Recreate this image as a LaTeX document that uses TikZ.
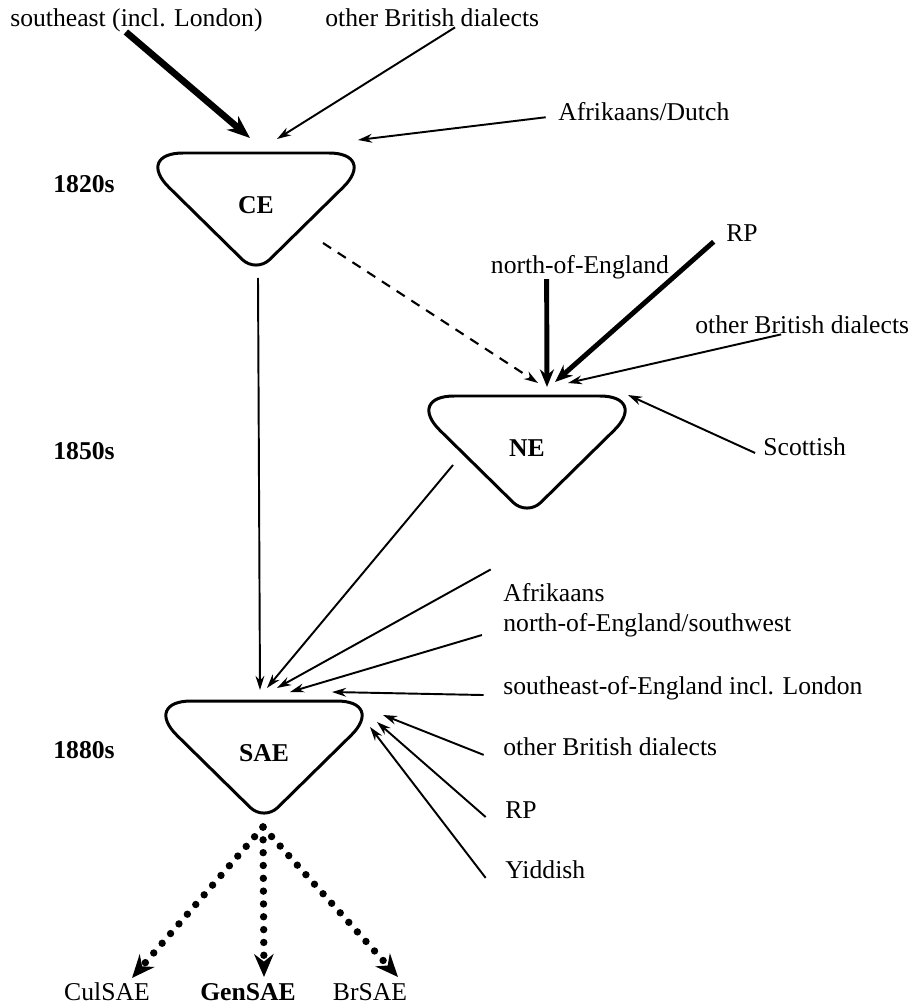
\documentclass[tikz,border=0pt]{standalone}
\usepackage{fontspec}
\setmainfont{Liberation Serif}
\usetikzlibrary{arrows.meta, positioning, calc}

% rounded triangle drawn round a variety node
\newcommand\vartri[1]{%
  \draw[tri] ($(#1)+(0,-52)$) [rounded corners=28pt] -- ($(#1)+(122,-52)$)
    [rounded corners=11pt] -- ($(#1)+(0,68)$)
    [rounded corners=28pt] -- ($(#1)+(-122,-52)$) -- cycle;}

\begin{document}
\begin{tikzpicture}[x=0.02cm, y=-0.02cm,
    lbl/.style={font=\fontsize{14.6pt}{17pt}\selectfont, inner sep=0pt, anchor=west},
    yr/.style={font=\fontsize{14.6pt}{17pt}\selectfont\bfseries, inner sep=0pt, anchor=west},
    var/.style={font=\fontsize{14.6pt}{17pt}\selectfont\bfseries, inner sep=0pt},
    tri/.style={line width=1.7pt},
    feed/.style={line width=1.1pt, -{Stealth[length=8pt, width=5pt]}},
    heavy/.style={line width=2.8pt, -{Stealth[length=10pt, width=8pt]}},
    heavier/.style={line width=3.8pt, -{Stealth[length=13pt, width=10pt]}},
    later/.style={line width=1.2pt, dash pattern=on 5.5pt off 4.5pt, -{Stealth[length=8pt, width=5pt]}},
    split/.style={line width=4.2pt, line cap=round, dash pattern=on 0pt off 7.3pt,
                  -{Stealth[length=13pt, width=11pt]}}]
  \useasboundingbox (0,0) rectangle (910,1006);

  % 1820s
  \node[lbl] (seL)  at (10,20)   {southeast (incl. London)};
  \node[lbl] (obdA) at (325,18)  {other British dialects};
  \node[lbl] (afdu) at (558,112) {Afrikaans/Dutch};
  \node[yr]  (y1820) at (53,184) {1820s};
  \node[var] (CE)   at (256,205) {CE};
  \vartri{CE}

  % 1850s
  \node[lbl, anchor=center] (noe) at (580,267) {north-of-England};
  \node[lbl, anchor=center] (rpA) at (742,233) {RP};
  \node[lbl] (obdB) at (695,325) {other British dialects};
  \node[lbl] (scot) at (763,447) {Scottish};
  \node[yr]  (y1850) at (53,451) {1850s};
  \node[var] (NE)   at (527,448) {NE};
  \vartri{NE}

  % 1880s
  \node[lbl] (afr)   at (503,593) {Afrikaans};
  \node[lbl] (noesw) at (503,625) {north-of-England/southwest};
  \node[lbl] (seoe)  at (503,688) {southeast-of-England incl. London};
  \node[lbl] (obdC)  at (503,747) {other British dialects};
  \node[lbl] (rpB)   at (505,810) {RP};
  \node[lbl] (yid)   at (505,870) {Yiddish};
  \node[yr]  (y1880) at (53,750) {1880s};
  \node[var] (SAE)  at (264,753) {SAE};
  \vartri{SAE}

  \node[lbl, anchor=center] (cul) at (107,992) {CulSAE};
  \node[var] (gen) at (248,992) {GenSAE};
  \node[lbl, anchor=center] (br)  at (370,992) {BrSAE};

  % arrow ends
  \coordinate (ce-in1) at (250,138);
  \coordinate (ce-in2) at (277,139);
  \coordinate (ce-in3) at (358,140);
  \coordinate (ne-in0) at (538,383);
  \coordinate (ne-in1) at (547,387);
  \coordinate (ne-in2) at (555,382);
  \coordinate (ne-in3) at (568,383);
  \coordinate (ne-in4) at (628,395);
  \coordinate (sae-in0) at (260,690);
  \coordinate (sae-in1) at (267,688);
  \coordinate (sae-in2) at (277,688);
  \coordinate (sae-in3) at (290,692);
  \coordinate (sae-in4) at (332,692);
  \coordinate (sae-in5) at (383,715);
  \coordinate (sae-in6) at (377,722);
  \coordinate (sae-in7) at (370,727);
  \coordinate (sae-out) at (263,827);
  \coordinate (cul-in) at (132,978);
  \coordinate (gen-in) at (264,977);
  \coordinate (br-in)  at (398,977);

  \draw[heavier] ([xshift=-6pt]seL.south) -- (ce-in1);
  \draw[feed] ([xshift=13pt]obdA.south) -- (ce-in2);
  \draw[feed] ([shift={(-7pt,-3pt)}]afdu.west) -- (ce-in3);

  \draw[later] ($(CE)+(67,38)$) -- (ne-in0);
  \draw[heavy] ([xshift=-19pt]noe.south) -- (ne-in1);
  \draw[heavy] ([xshift=-7pt]rpA.south west) -- (ne-in2);
  \draw[feed] ([xshift=-12pt]obdB.south) -- (ne-in3);
  \draw[feed] ([shift={(-4.5pt,-3.4pt)}]scot.west) -- (ne-in4);

  \draw[feed] ($(CE)+(2,73)$) -- (sae-in0);
  \draw[feed] ($(NE)+(-74,17)$) -- (sae-in1);
  \draw[feed] ([shift={(-7pt,8pt)}]afr.north west) -- (sae-in2);
  \draw[feed] ([shift={(-12pt,-5.7pt)}]noesw.west) -- (sae-in3);
  \draw[feed] ([shift={(-11pt,-4pt)}]seoe.west) -- (sae-in4);
  \draw[feed] ([shift={(-11pt,-4.5pt)}]obdC.west) -- (sae-in5);
  \draw[feed] ([shift={(-11pt,-4pt)}]rpB.west) -- (sae-in6);
  \draw[feed] ([shift={(-11pt,-4.5pt)}]yid.west) -- (sae-in7);

  \draw[split] (sae-out) -- (cul-in);
  \draw[split] (sae-out) -- (gen-in);
  \draw[split] (sae-out) -- (br-in);
\end{tikzpicture}
\end{document}
